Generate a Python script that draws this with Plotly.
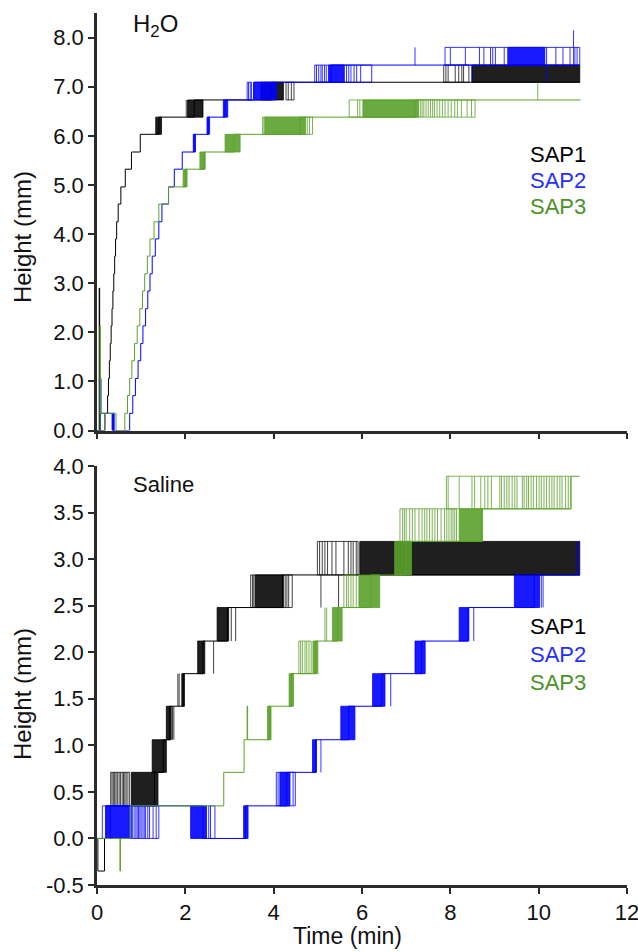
import plotly.graph_objects as go

# ---------------- data (time in min, height in mm) ----------------
X_TICKS = [0, 2, 4, 6, 8, 10, 12]
X_TICK_TEXT = ["0", "2", "4", "6", "8", "10", "12"]
H2O_Y_TICKS = [0, 1, 2, 3, 4, 5, 6, 7, 8]
H2O_Y_TICK_TEXT = ["0.0", "1.0", "2.0", "3.0", "4.0", "5.0", "6.0", "7.0", "8.0"]
SAL_Y_TICKS = [-0.5, 0, 0.5, 1.0, 1.5, 2.0, 2.5, 3.0, 3.5, 4.0]
SAL_Y_TICK_TEXT = ["-0.5", "0.0", "0.5", "1.0", "1.5", "2.0", "2.5", "3.0", "3.5", "4.0"]
SERIES = ["SAP1", "SAP2", "SAP3"]

# ---- H2O panel ----
H2O_SAP1_T = [0, 0.05, 0.06, 0.18, 0.24, 0.26, 0.28, 0.30, 0.32, 0.34, 0.36, 0.38, 0.40, 0.42,
              0.445, 0.48, 0.54, 0.64, 0.78, 0.98, 1.40, 2.20, 3.95, 10.93]
H2O_SAP1_H = [0, 2.9, 0, 0.35, 0.71, 1.06, 1.42, 1.77, 2.13, 2.48, 2.84, 3.19, 3.55, 3.90,
              4.25, 4.61, 4.96, 5.32, 5.67, 6.03, 6.38, 6.73, 7.09, 7.09]
H2O_SAP1_DENSE = [[1.33, 1.46, 6.03, 6.38], [2.05, 2.40, 6.38, 6.73],
                  [3.71, 4.22, 6.73, 7.09], [8.49, 10.93, 7.09, 7.44]]
H2O_SAP1_SPIKES = [[6.38, 6.73, [2.02]],
                   [6.73, 7.09, [4.28, 4.33, 4.40, 4.46]],
                   [7.09, 7.44, [7.85, 7.90, 7.95, 8.11, 8.19, 8.26, 8.30, 8.42]]]

H2O_SAP2_T = [0, 0.08, 0.09, 0.37, 0.74, 0.81, 0.87, 0.93, 0.99, 1.04, 1.10, 1.15, 1.20, 1.25,
              1.32, 1.40, 1.47, 1.62, 1.75, 1.93, 2.20, 2.52, 2.90, 3.55, 5.30, 10.93]
H2O_SAP2_H = [0, 1.06, 0.35, 0, 0.35, 0.71, 1.06, 1.42, 1.77, 2.13, 2.48, 2.84, 3.19, 3.55,
              3.90, 4.25, 4.61, 4.96, 5.32, 5.67, 6.03, 6.38, 6.73, 7.09, 7.44, 7.44]
H2O_SAP2_DENSE = [[0.34, 0.39, 0, 0.35], [2.18, 2.23, 5.67, 6.03], [2.49, 2.55, 6.03, 6.38],
                  [2.86, 2.96, 6.38, 6.73], [3.55, 4.06, 6.73, 7.09], [5.24, 5.60, 7.09, 7.44],
                  [9.30, 10.14, 7.44, 7.80]]
H2O_SAP2_SPIKES = [[6.73, 7.09, [3.40, 3.43, 3.47, 3.50]],
                   [7.09, 7.44, [4.93, 4.97, 5.02, 5.07, 5.10, 5.15, 5.19, 5.65, 5.70, 5.75,
                                 5.82, 5.88, 5.97, 6.22]],
                   [7.09, 7.44, [8.49, 10.18]],
                   [7.44, 7.80, [7.20]],
                   [7.44, 7.80, [7.88, 8.00, 8.34, 8.66, 8.76, 8.91, 8.96, 9.02, 9.22,
                                 10.18, 10.39, 10.55, 10.71, 10.82, 10.87, 10.93]],
                   [7.44, 8.15, [10.79]]]

H2O_SAP3_T = [0, 0.07, 0.075, 0.43, 0.63, 0.69, 0.74, 0.79, 0.85, 0.91, 0.97, 1.03, 1.08, 1.14,
              1.20, 1.29, 1.40, 1.62, 2.00, 2.42, 3.10, 4.60, 7.20, 10.95]
H2O_SAP3_H = [0, 2.13, 0.35, 0, 0.35, 0.71, 1.06, 1.42, 1.77, 2.13, 2.48, 2.84, 3.19, 3.55,
              3.90, 4.25, 4.61, 4.96, 5.32, 5.67, 6.03, 6.38, 6.73, 6.73]
H2O_SAP3_DENSE = [[1.95, 2.04, 4.96, 5.32], [2.33, 2.45, 5.32, 5.67], [2.90, 3.24, 5.67, 6.03],
                  [3.80, 4.72, 6.03, 6.38], [6.02, 7.28, 6.38, 6.73]]
H2O_SAP3_SPIKES = [[6.03, 6.38, [3.75, 3.78, 4.76, 4.81, 4.88]],
                   [6.38, 6.73, [5.71, 5.90, 5.95, 7.32, 7.36, 7.40, 7.45, 7.50, 7.55, 7.60,
                                 7.64, 7.70, 7.76, 7.82, 7.88, 7.95, 8.02, 8.10, 8.16, 8.25,
                                 8.38, 8.48, 8.56]],
                   [6.73, 7.09, [9.98]]]

# ---- Saline panel ----
SAL_SAP1_T = [0, 0.02, 0.17, 0.30, 1.30, 1.50, 1.65, 1.95, 2.40, 2.95, 4.20, 10.93]
SAL_SAP1_H = [0, -0.35, 0, 0.35, 0.71, 1.06, 1.42, 1.77, 2.12, 2.48, 2.83, 2.83]
SAL_SAP1_DENSE = [[0.78, 1.38, 0.35, 0.71], [1.25, 1.57, 0.71, 1.06], [1.57, 1.68, 1.06, 1.42],
                  [1.92, 1.98, 1.42, 1.77], [2.28, 2.44, 1.77, 2.12], [2.72, 2.98, 2.12, 2.48],
                  [3.58, 4.22, 2.48, 2.83], [5.95, 10.93, 2.83, 3.19]]
SAL_SAP1_SPIKES = [[0.35, 0.71, [0.31, 0.34, 0.37, 0.40, 0.43, 0.46, 0.50, 0.53, 0.57, 0.60,
                                 0.63, 0.66, 0.70, 0.74]],
                   [1.06, 1.42, [1.71, 1.74]],
                   [1.42, 1.77, [1.83, 1.86]],
                   [1.77, 2.12, [2.64]],
                   [2.12, 2.48, [3.04, 3.14]],
                   [2.48, 2.83, [3.48, 3.52, 3.55, 4.26, 4.30, 4.34, 4.42]],
                   [2.48, 2.83, [5.07, 5.47]],
                   [2.83, 3.19, [4.99, 5.04, 5.10, 5.16, 5.22, 5.32, 5.41, 5.59, 5.69, 5.75,
                                 5.80, 5.87, 5.91]]]

SAL_SAP2_T = [0, 0.20, 2.40, 3.36, 4.30, 4.95, 5.70, 6.45, 7.35, 8.40, 9.90, 10.93]
SAL_SAP2_H = [0, 0.35, 0, 0.35, 0.71, 1.06, 1.42, 1.77, 2.12, 2.48, 2.83, 2.83]
SAL_SAP2_DENSE = [[0.20, 0.75, 0, 0.35], [2.12, 2.48, 0, 0.35], [3.32, 3.42, 0, 0.35],
                  [4.14, 4.37, 0.35, 0.71], [4.88, 4.97, 0.71, 1.06], [5.52, 5.84, 1.06, 1.42],
                  [6.24, 6.52, 1.42, 1.77], [7.20, 7.43, 1.77, 2.12], [8.20, 8.42, 2.12, 2.48],
                  [9.45, 10.02, 2.48, 2.83]]
SAL_SAP2_SPIKES = [[0, 0.35, [0.12, 0.78, 0.80, 0.84, 0.88, 0.91, 0.94, 0.97, 1.00, 1.04, 1.07,
                              1.10, 1.15, 1.19, 1.27, 1.34, 1.40]],
                   [0, 0.35, [2.53, 2.57, 2.67]],
                   [0.35, 0.71, [4.06, 4.10, 4.44, 4.49]],
                   [0.71, 1.06, [5.07]],
                   [1.42, 1.77, [6.65]],
                   [2.12, 2.48, [8.53]],
                   [2.48, 2.83, [10.06, 10.10]],
                   [2.83, 3.19, [10.86, 10.90]]]

SAL_SAP3_T = [0, 0.52, 0.53, 0.75, 2.87, 3.33, 3.40, 3.41, 3.90, 4.40, 4.95, 5.45, 6.20, 7.00,
              8.70, 10.73, 10.93]
SAL_SAP3_H = [0, -0.35, 0, 0.35, 0.71, 1.06, 1.42, 1.06, 1.42, 1.77, 2.12, 2.48, 2.83, 3.19,
              3.54, 3.89, 3.89]
SAL_SAP3_DENSE = [[3.86, 3.94, 1.06, 1.42], [4.35, 4.45, 1.42, 1.77], [4.89, 5.00, 1.77, 2.12],
                  [5.33, 5.55, 2.12, 2.48], [5.93, 6.40, 2.48, 2.83], [6.74, 7.12, 2.83, 3.19],
                  [8.20, 8.73, 3.19, 3.54]]
SAL_SAP3_SPIKES = [[1.77, 2.12, [4.57, 4.61, 4.65, 4.71, 4.75, 4.80, 4.85]],
                   [2.12, 2.48, [5.16, 5.20]],
                   [2.48, 2.83, [5.59, 5.65, 5.69, 5.75, 5.80, 5.87]],
                   [3.19, 3.54, [6.86, 6.92, 6.96, 7.00, 7.08, 7.14, 7.20, 7.29, 7.36, 7.42,
                                 7.47, 7.53, 7.59, 7.65, 7.71, 7.79, 7.87, 7.92, 7.97, 8.02,
                                 8.06, 8.10, 8.14]],
                   [3.54, 3.89, [7.91, 7.95, 8.20, 8.49, 8.55, 8.69, 8.78, 8.85, 8.93, 9.12,
                                 9.16, 9.22, 9.28, 9.33, 9.40, 9.46, 9.51, 9.63, 9.67, 9.73,
                                 9.77, 9.83, 9.88, 9.95, 10.01, 10.06, 10.12, 10.18, 10.24,
                                 10.30, 10.35, 10.42, 10.48, 10.53, 10.61, 10.67, 10.73]]]

# ---------------- styling ----------------
LINE_COLORS = {"SAP1": "#000000", "SAP2": "#0000ff", "SAP3": "#5ba12b"}
FILL_COLORS = {"SAP1": "rgba(0,0,0,0.88)", "SAP2": "rgba(0,0,255,0.9)", "SAP3": "rgba(91,161,43,0.9)"}
SPIKE_COLORS = {"SAP1": "rgba(0,0,0,0.75)", "SAP2": "rgba(0,0,255,0.8)", "SAP3": "rgba(91,161,43,0.8)"}
TEXT_COLORS = {"SAP1": "#000000", "SAP2": "#1f2fff", "SAP3": "#4b922a"}
FONT = "Liberation Sans, Arial, Helvetica, sans-serif"
TXT = "#111111"

fig = go.Figure()


def add_series(t, h, dense, spikes, name, xa, ya):
    # step baseline
    fig.add_trace(go.Scatter(x=t, y=h, mode="lines", xaxis=xa, yaxis=ya,
                             line=dict(color=LINE_COLORS[name], width=1, shape="hv"),
                             hoverinfo="skip", showlegend=False))
    # dense flicker bands
    bx, by = [], []
    for t0, t1, lo, hi in dense:
        bx += [t0, t1, t1, t0, t0, None]
        by += [lo, lo, hi, hi, lo, None]
    if bx:
        fig.add_trace(go.Scatter(x=bx, y=by, mode="lines", fill="toself", xaxis=xa, yaxis=ya,
                                 fillcolor=FILL_COLORS[name],
                                 line=dict(color=LINE_COLORS[name], width=0.8),
                                 hoverinfo="skip", showlegend=False))
    # sparse flicker spikes
    sx, sy = [], []
    for lo, hi, times in spikes:
        for tt in times:
            sx += [tt, tt, None]
            sy += [lo, hi, None]
        if len(times) > 2:
            sx += [min(times), max(times), None, min(times), max(times), None]
            sy += [lo, lo, None, hi, hi, None]
    if sx:
        fig.add_trace(go.Scatter(x=sx, y=sy, mode="lines", xaxis=xa, yaxis=ya,
                                 line=dict(color=SPIKE_COLORS[name], width=1),
                                 hoverinfo="skip", showlegend=False))


add_series(H2O_SAP1_T, H2O_SAP1_H, H2O_SAP1_DENSE, H2O_SAP1_SPIKES, "SAP1", "x", "y")
add_series(H2O_SAP2_T, H2O_SAP2_H, H2O_SAP2_DENSE, H2O_SAP2_SPIKES, "SAP2", "x", "y")
add_series(H2O_SAP3_T, H2O_SAP3_H, H2O_SAP3_DENSE, H2O_SAP3_SPIKES, "SAP3", "x", "y")
add_series(SAL_SAP1_T, SAL_SAP1_H, SAL_SAP1_DENSE, SAL_SAP1_SPIKES, "SAP1", "x2", "y2")
add_series(SAL_SAP2_T, SAL_SAP2_H, SAL_SAP2_DENSE, SAL_SAP2_SPIKES, "SAP2", "x2", "y2")
add_series(SAL_SAP3_T, SAL_SAP3_H, SAL_SAP3_DENSE, SAL_SAP3_SPIKES, "SAP3", "x2", "y2")

axis_common = dict(showgrid=False, zeroline=False, showline=True, linecolor="#2b2b2b",
                   linewidth=2.5, ticks="outside", ticklen=6, tickwidth=2, tickcolor="#2b2b2b",
                   automargin=False, ticklabeloverflow="allow",
                   tickfont=dict(family=FONT, size=22, color=TXT))

fig.update_layout(
    width=638, height=952,
    margin=dict(l=97, r=11, t=13, b=67, autoexpand=False),
    paper_bgcolor="white", plot_bgcolor="white",
    font=dict(family=FONT, color=TXT),
    xaxis=dict(domain=[0, 1], anchor="y", range=[0, 12], tickvals=X_TICKS,
               showticklabels=False, **axis_common),
    yaxis=dict(domain=[0.5212, 1], anchor="x", range=[0, 8.5], tickvals=H2O_Y_TICKS,
               ticktext=H2O_Y_TICK_TEXT, **axis_common),
    xaxis2=dict(domain=[0, 1], anchor="y2", range=[0, 12], tickvals=X_TICKS,
                ticktext=X_TICK_TEXT, **axis_common),
    yaxis2=dict(domain=[0, 0.4805], anchor="x2", range=[-0.5, 4.0], tickvals=SAL_Y_TICKS,
                ticktext=SAL_Y_TICK_TEXT, **axis_common),
)

annotations = [
    dict(text="H<sub>2</sub>O", xref="x domain", yref="y domain", x=0.064, y=0.971,
         xanchor="left", yanchor="middle", showarrow=False,
         font=dict(family=FONT, size=24, color=TXT)),
    dict(text="Saline", xref="x2 domain", yref="y2 domain", x=0.064, y=0.955,
         xanchor="left", yanchor="middle", showarrow=False,
         font=dict(family=FONT, size=22, color=TXT)),
    # axis titles
    dict(text="Height (mm)", xref="paper", yref="paper", x=-0.1415, y=0.743,
         xanchor="center", yanchor="middle", textangle=-90, showarrow=False,
         font=dict(family=FONT, size=24, color=TXT)),
    dict(text="Height (mm)", xref="paper", yref="paper", x=-0.1415, y=0.219,
         xanchor="center", yanchor="middle", textangle=-90, showarrow=False,
         font=dict(family=FONT, size=24, color=TXT)),
    dict(text="Time (min)", xref="paper", yref="paper", x=0.4717, y=-0.0585,
         xanchor="center", yanchor="middle", showarrow=False,
         font=dict(family=FONT, size=23, color=TXT)),
]
top_pos = [0.660, 0.598, 0.536]
bot_pos = [0.616, 0.551, 0.484]
for name, yp in zip(SERIES, top_pos):
    annotations.append(dict(text=name, xref="x domain", yref="y domain", x=0.813, y=yp,
                            xanchor="left", yanchor="middle", showarrow=False,
                            font=dict(family=FONT, size=22, color=TEXT_COLORS[name])))
for name, yp in zip(SERIES, bot_pos):
    annotations.append(dict(text=name, xref="x2 domain", yref="y2 domain", x=0.813, y=yp,
                            xanchor="left", yanchor="middle", showarrow=False,
                            font=dict(family=FONT, size=22, color=TEXT_COLORS[name])))
fig.update_layout(annotations=annotations)

fig.write_html("out.html", config={"displayModeBar": False},
               post_script="document.body.style.margin='0';document.body.style.padding='0';")
